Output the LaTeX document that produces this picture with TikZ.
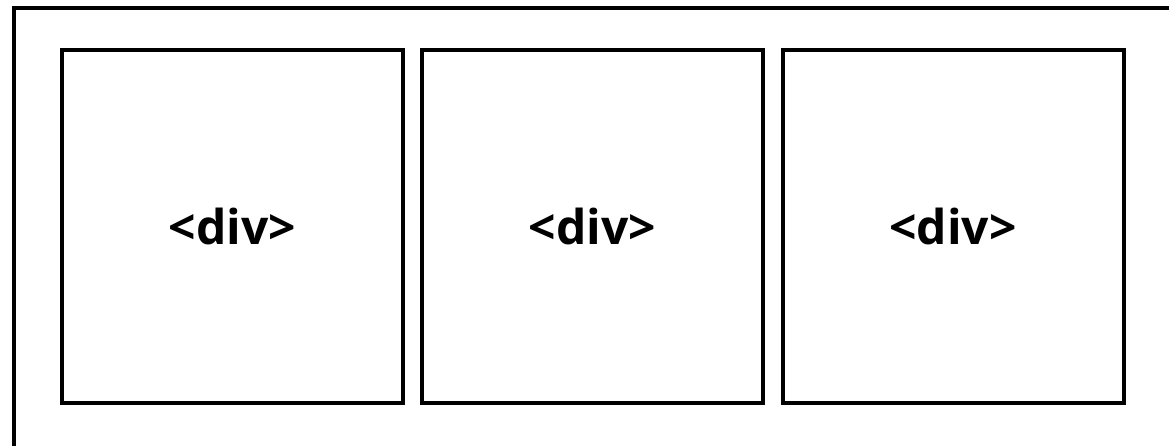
\documentclass[tikz,border=0pt]{standalone}
\usepackage{fontspec}
\setmainfont{Open Sans}
\usepackage{tikz}
\usetikzlibrary{arrows}
\definecolor{boxline}{rgb}{0,0,0}

\begin{document}
\begin{tikzpicture}[line cap=butt,line join=miter,x=1pt,y=-1pt,
  divbox/.style={draw=boxline,line width=4pt,minimum width=341pt,minimum height=353.5pt,inner sep=0pt,font=\fontsize{48}{56}\selectfont\bfseries}]
      \clip(0,0) rectangle (1169,445);
      \draw [color=boxline,line width=4pt] (14,7.5) rectangle (1190,470);
      \node[divbox] (d1) at (232.5,226.25) {<div>};
      \node[divbox] (d2) at (592.5,226.25) {<div>};
      \node[divbox] (d3) at (953,226.25) {<div>};
\end{tikzpicture}
\end{document}
